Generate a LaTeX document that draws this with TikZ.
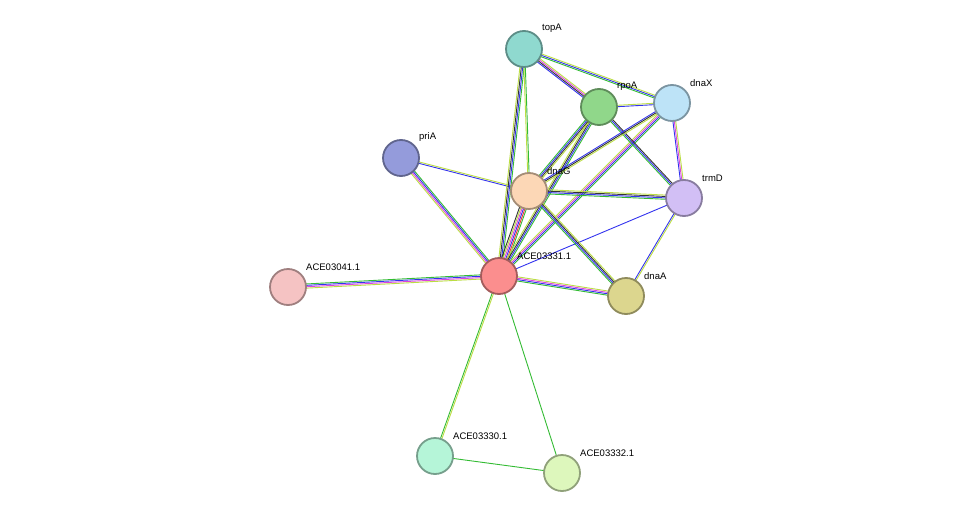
\documentclass[tikz,border=0pt]{standalone}
\usetikzlibrary{calc}
\usepackage{fontspec}
\setmainfont{Liberation Sans}
\definecolor{eg}{HTML}{33BB33}
\definecolor{eb}{HTML}{3333EE}
\definecolor{em}{HTML}{DD44DD}
\definecolor{ey}{HTML}{BBDD44}
\definecolor{ek}{HTML}{333333}
\definecolor{er}{HTML}{EE3333}
\definecolor{ftopA}{HTML}{8FD9CF}
\definecolor{frpoA}{HTML}{90D78A}
\definecolor{fdnaX}{HTML}{BDE3F7}
\definecolor{fpriA}{HTML}{949BDB}
\definecolor{fdnaG}{HTML}{FCD7B6}
\definecolor{ftrmD}{HTML}{D2BFF5}
\definecolor{fc31}{HTML}{FB8E8E}
\definecolor{fc41}{HTML}{F5C3C3}
\definecolor{fdnaA}{HTML}{DCD68E}
\definecolor{fc30}{HTML}{B5F5D8}
\definecolor{fc32}{HTML}{DDF7BC}
\newcommand\medge[4]{%
  \foreach \c [count=\i] in {#4} {%
    \pgfmathsetmacro\o{(\i-(#3+1)/2)*1.4}%
    \draw[line width=0.9pt,\c] ($(#1)!\o pt!90:(#2)$) -- ($(#2)!\o pt!-90:(#1)$);
  }}
\tikzset{prot/.style={circle,minimum size=36pt,inner sep=0pt,line width=1.8pt,fill=#1,draw=#1!65!black},
  lab/.style={anchor=south west,font=\fontsize{9.5pt}{10pt}\selectfont,inner sep=0pt}}
\begin{document}
\begin{tikzpicture}[x=1pt,y=-1pt]
\useasboundingbox (0,0) rectangle (976,519);
\coordinate (topA) at (524,49);
\coordinate (rpoA) at (599,107);
\coordinate (dnaX) at (672,103);
\coordinate (priA) at (401,158);
\coordinate (dnaG) at (529,191);
\coordinate (trmD) at (684,198);
\coordinate (c31) at (499,276);
\coordinate (c41) at (288,287);
\coordinate (dnaA) at (626,296);
\coordinate (c30) at (435,456);
\coordinate (c32) at (562,473);
\medge{c31}{c41}{4}{eg,eb,em,ey}
\medge{c31}{priA}{4}{eg,eb,em,ey}
\medge{priA}{dnaG}{2}{eb,ey}
\medge{c31}{topA}{4}{eg,eb,ek,ey}
\medge{c31}{dnaG}{6}{eg,er,eb,em,ey,ek}
\medge{c31}{rpoA}{4}{eg,eb,ek,ey}
\medge{c31}{dnaX}{4}{eg,eb,em,ey}
\medge{c31}{trmD}{1}{eb}
\medge{c31}{dnaA}{4}{eg,eb,em,ey}
\medge{c31}{c30}{2}{eg,ey}
\medge{c31}{c32}{1}{eg}
\medge{c30}{c32}{1}{eg}
\medge{topA}{rpoA}{4}{eb,ek,em,ey}
\medge{topA}{dnaX}{3}{eg,eb,ey}
\medge{topA}{dnaG}{2}{ey,eg}
\medge{rpoA}{dnaX}{2}{eb,ey}
\medge{rpoA}{dnaG}{4}{eg,eb,ek,ey}
\medge{rpoA}{trmD}{3}{eg,eb,ek}
\medge{dnaX}{dnaG}{3}{eb,ek,ey}
\medge{dnaX}{trmD}{3}{eb,em,ey}
\medge{dnaG}{trmD}{4}{eg,eb,ek,ey}
\medge{dnaG}{dnaA}{4}{eg,eb,ek,ey}
\medge{trmD}{dnaA}{2}{eb,ey}
\node[prot=ftopA] (ntopA) at (topA) {};
\node[prot=frpoA] (nrpoA) at (rpoA) {};
\node[prot=fdnaX] (ndnaX) at (dnaX) {};
\node[prot=fpriA] (npriA) at (priA) {};
\node[prot=fdnaG] (ndnaG) at (dnaG) {};
\node[prot=ftrmD] (ntrmD) at (trmD) {};
\node[prot=fc31] (nc31) at (c31) {};
\node[prot=fc41] (nc41) at (c41) {};
\node[prot=fdnaA] (ndnaA) at (dnaA) {};
\node[prot=fc30] (nc30) at (c30) {};
\node[prot=fc32] (nc32) at (c32) {};
\node[lab] (ltopA) at (542,33) {topA};
\node[lab] (lrpoA) at (617,91) {rpoA};
\node[lab] (ldnaX) at (690,87) {dnaX};
\node[lab] (lpriA) at (419,142) {priA};
\node[lab] (ldnaG) at (547,175) {dnaG};
\node[lab] (ltrmD) at (702,182) {trmD};
\node[lab] (lc31) at (517,260) {ACE03331.1};
\node[lab] (lc41) at (306,271) {ACE03041.1};
\node[lab] (ldnaA) at (644,280) {dnaA};
\node[lab] (lc30) at (453,440) {ACE03330.1};
\node[lab] (lc32) at (580,457) {ACE03332.1};
\end{tikzpicture}
\end{document}
